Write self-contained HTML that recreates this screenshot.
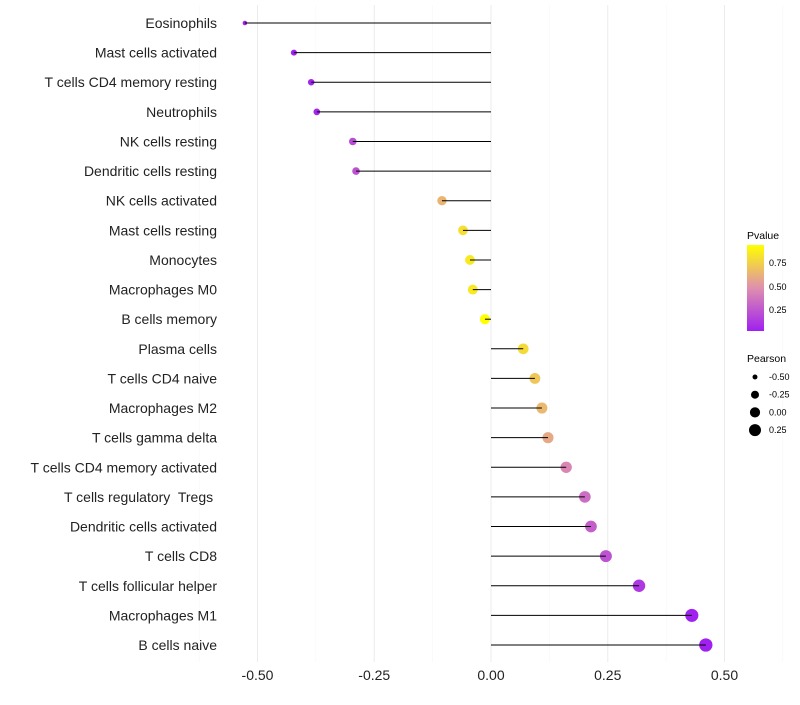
<!DOCTYPE html>
<html><head><meta charset="utf-8"><style>
body{margin:0;background:#fff;font-family:"Liberation Sans",sans-serif;}
text{white-space:pre;}
</style></head><body>
<svg id="c" width="800" height="700" xmlns="http://www.w3.org/2000/svg">
<defs><linearGradient id="pg" x1="0" y1="1" x2="0" y2="0">
<stop offset="0" stop-color="#a020f0"/><stop offset="0.5" stop-color="#df8fae"/><stop offset="1" stop-color="#ffff00"/>
</linearGradient></defs>
<g id="grid"></g><g id="dots"></g><g id="marks"></g><g id="labels"></g>
<g font-size="9">
<text x="747" y="239" font-size="10.5">Pvalue</text>
<rect x="747" y="245" width="17" height="86" fill="url(#pg)"/>
<text x="769" y="266">0.75</text>
<text x="769" y="290">0.50</text>
<text x="769" y="313">0.25</text>
<text x="747" y="362" font-size="10.5">Pearson</text>
<g id="sizeleg"></g>
</g>
</svg>
<script>
const categories=["Eosinophils","Mast cells activated","T cells CD4 memory resting","Neutrophils","NK cells resting","Dendritic cells resting","NK cells activated","Mast cells resting","Monocytes","Macrophages M0","B cells memory","Plasma cells","T cells CD4 naive","Macrophages M2","T cells gamma delta","T cells CD4 memory activated","T cells regulatory  Tregs ","Dendritic cells activated","T cells CD8","T cells follicular helper","Macrophages M1","B cells naive"];
const pearson=[-0.527,-0.422,-0.385,-0.373,-0.296,-0.289,-0.105,-0.06,-0.045,-0.039,-0.013,0.069,0.094,0.109,0.122,0.161,0.201,0.214,0.246,0.317,0.43,0.46];
const pvalue=[0.02,0.04,0.06,0.07,0.22,0.24,0.65,0.82,0.86,0.86,0.97,0.8,0.72,0.66,0.6,0.46,0.36,0.3,0.25,0.14,0.05,0.04];
const xTicks=[-0.5,-0.25,0,0.25,0.5];
const xTickLabels=["-0.50","-0.25","0.00","0.25","0.50"];
const sizeLegend=[-0.5,-0.25,0,0.25];
const NS="http://www.w3.org/2000/svg";
const X=v=>491+v*467;
const Y=i=>23+i*(622/21);
const R=v=>Math.sqrt(Math.max(1.5,26+39.7*v));
function lerp(a,b,t){return a.map((x,k)=>Math.round(x+(b[k]-x)*t));}
function col(p){const t=Math.min(1,Math.max(0,(p-0.04)/0.91));const a=[160,32,240],m=[223,143,174],b=[255,255,0];const c=t<0.5?lerp(a,m,t*2):lerp(m,b,(t-0.5)*2);return `rgb(${c})`;}
function mk(t,at,p){const e=document.createElementNS(NS,t);for(const k in at)e.setAttribute(k,at[k]);p.appendChild(e);return e;}
const grid=document.getElementById('grid'),marks=document.getElementById('marks'),dots=document.getElementById('dots'),labels=document.getElementById('labels');
for(let k=-5;k<=5;k++){const v=k*0.125;const major=k%2===0;const g=mk('line',{x1:X(v),x2:X(v),y1:5,y2:662,stroke:major?'#ebebeb':'#f5f5f5','stroke-width':major?1:0.5},grid);

}
xTicks.forEach((v,i)=>{const t=mk('text',{x:X(v),y:680,'text-anchor':'middle','font-size':14,fill:'#222'},labels);t.textContent=xTickLabels[i];

});
categories.forEach((c,i)=>{const y=Y(i);
const t=mk('text',{x:217,y:y+5,'text-anchor':'end','font-size':14,fill:'#222'},labels);t.textContent=c;


const d=mk('circle',{cx:X(pearson[i]),cy:y,r:R(pearson[i]),fill:col(pvalue[i])},dots);


const l=mk('line',{x1:X(0),x2:X(pearson[i]),y1:y,y2:y,stroke:'#000','stroke-width':1},marks);

});
const sl=document.getElementById('sizeleg');
sizeLegend.forEach((v,i)=>{const y=377+i*17.7;
const d=mk('circle',{cx:755,cy:y,r:R(v),fill:'#000'},sl);


const t=mk('text',{x:769,y:y+3,'font-size':9},sl);t.textContent=v.toFixed(2);

});
</script>
</body></html>
